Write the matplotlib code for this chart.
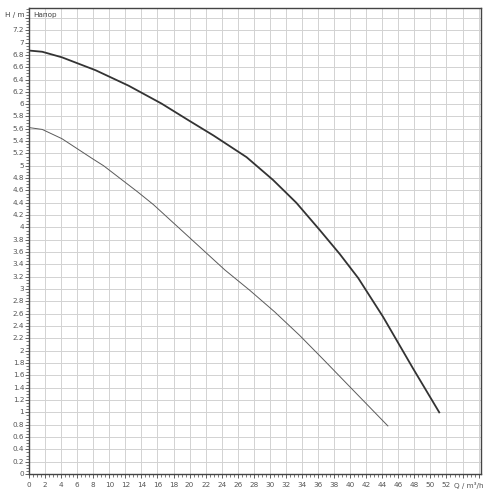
import matplotlib
matplotlib.use("Agg")
import matplotlib.pyplot as plt
from matplotlib.ticker import MultipleLocator

# pump curves: Q in m3/h, H in m
q_upper = [0, 1.65, 4.1, 8.3, 12.4, 16.5, 19.85, 23.0, 27.1, 30.4, 33.3,
           36.2, 38.7, 41.0, 44.1, 47.8, 51.1]
h_upper = [6.87, 6.85, 6.76, 6.55, 6.30, 6.01, 5.74, 5.49, 5.14, 4.77, 4.40,
           3.96, 3.57, 3.18, 2.55, 1.72, 1.0]

q_lower = [0, 1.65, 4.1, 7.85, 9.3, 11.4, 13.5, 15.5, 19.7, 24.4, 27.5,
           30.6, 33.7, 36.8, 40, 44.7]
h_lower = [5.62, 5.59, 5.44, 5.12, 5.0, 4.79, 4.58, 4.37, 3.87, 3.31, 2.98,
           2.63, 2.25, 1.84, 1.41, 0.78]

x_ticks = list(range(0, 54, 2))
y_ticks = [round(i * 0.2, 1) for i in range(37)]

fig = plt.figure(figsize=(5, 5), dpi=100)
ax = fig.add_axes([0.058, 0.052, 0.904, 0.932])

ax.plot(q_upper, h_upper, color="#333333", lw=1.3, solid_joinstyle="round")
ax.plot(q_lower, h_lower, color="#5a5a5a", lw=0.7, solid_joinstyle="round")

ax.set_xlim(0, 56.3)
ax.set_ylim(0, 7.56)

# grid every 2 m3/h and every 0.2 m, also above the last labelled tick
ax.xaxis.set_major_locator(MultipleLocator(2))
ax.yaxis.set_major_locator(MultipleLocator(0.2))
ax.xaxis.set_minor_locator(MultipleLocator(0.5))
ax.yaxis.set_minor_locator(MultipleLocator(0.05))
ax.grid(True, which="major", color="#d2d2d2", lw=0.7)
ax.set_axisbelow(True)

ax.set_xticklabels([])
ax.set_yticklabels([])
ax.tick_params(which="major", direction="out", length=3, width=0.6, color="#444444")
ax.tick_params(which="minor", direction="out", length=2, width=0.5, color="#444444")

lab = dict(fontsize=5.2, color="#555555")
for x in x_ticks:
    ax.text(x, -0.13, str(x), ha="center", va="top", **lab)
for y in y_ticks:
    ax.text(-0.6, y, f"{y:g}", ha="right", va="center", **lab)

ax.text(54.8, -0.13, "Q / m³/h", ha="center", va="top", **lab)
ax.text(-0.6, 7.45, "H / m", ha="right", va="center", fontsize=5.2, color="#444444")
ax.text(0.5, 7.45, "Напор", ha="left", va="center", fontsize=5.2, color="#444444")

for s in ax.spines.values():
    s.set_color("#444444")
    s.set_linewidth(1.0)

fig.savefig("out.png", dpi=100, facecolor="white")
